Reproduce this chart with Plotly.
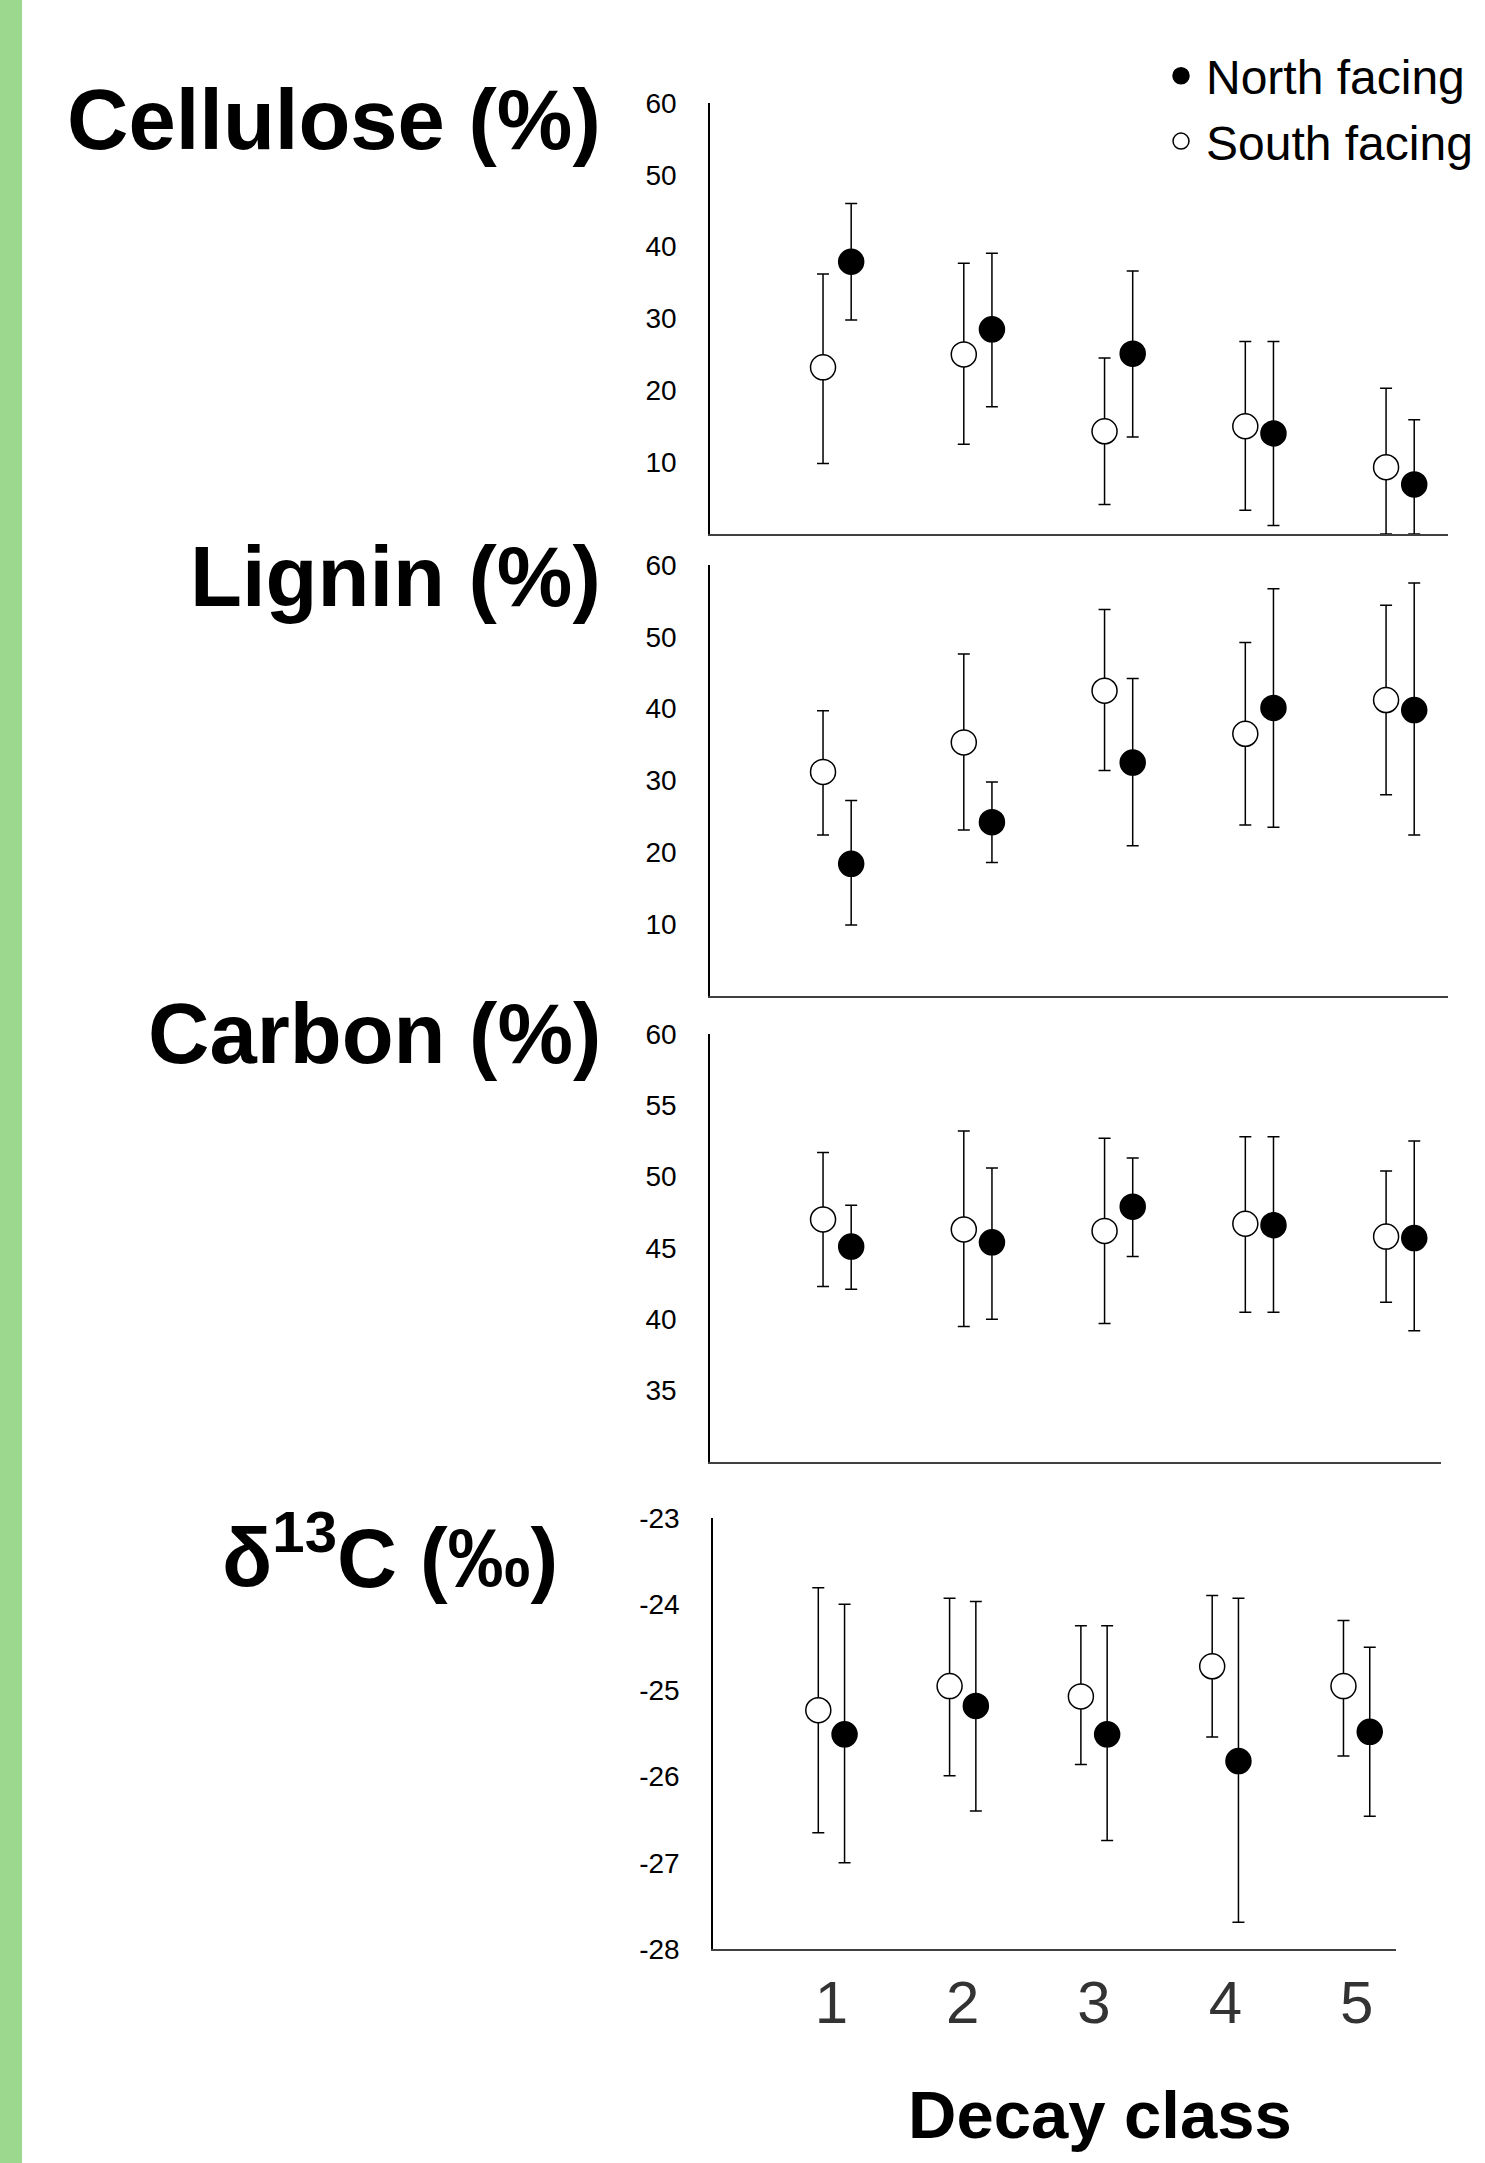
import plotly.graph_objects as go
from plotly.subplots import make_subplots

W, H = 1485, 2163

# ---------------- data ----------------
classes = [1, 2, 3, 4, 5]
class_labels = ["1", "2", "3", "4", "5"]
series_names = ["North facing", "South facing"]

# Cellulose (%)
cel_south = [23.2, 25.0, 14.3, 15.0, 9.3]
cel_south_hi = [36.2, 37.7, 24.5, 26.8, 20.3]
cel_south_lo = [9.8, 12.5, 4.1, 3.3, 0.0]
cel_north = [37.9, 28.5, 25.1, 14.0, 6.9]
cel_north_hi = [46.0, 39.1, 36.6, 26.8, 15.9]
cel_north_lo = [29.8, 17.7, 13.5, 1.2, 0.0]

# Lignin (%)
lig_south = [31.2, 35.3, 42.5, 36.5, 41.2]
lig_south_hi = [39.7, 47.6, 53.8, 49.2, 54.4]
lig_south_lo = [22.4, 23.1, 31.4, 23.8, 28.0]
lig_north = [18.4, 24.2, 32.5, 40.1, 39.8]
lig_north_hi = [27.2, 29.8, 44.2, 56.7, 57.5]
lig_north_lo = [9.9, 18.6, 20.9, 23.5, 22.4]

# Carbon (%)
car_south = [47.0, 46.3, 46.2, 46.7, 45.8]
car_south_hi = [51.7, 53.2, 52.7, 52.8, 50.4]
car_south_lo = [42.3, 39.5, 39.7, 40.5, 41.2]
car_north = [45.1, 45.4, 47.9, 46.6, 45.7]
car_north_hi = [48.0, 50.6, 51.3, 52.8, 52.5]
car_north_lo = [42.1, 40.0, 44.4, 40.5, 39.2]

# delta 13C (per mil)
d13_south = [-25.23, -24.95, -25.07, -24.72, -24.95]
d13_south_hi = [-23.81, -23.93, -24.25, -23.90, -24.19]
d13_south_lo = [-26.65, -25.99, -25.86, -25.54, -25.76]
d13_north = [-25.51, -25.18, -25.51, -25.82, -25.48]
d13_north_hi = [-24.00, -23.97, -24.25, -23.93, -24.50]
d13_north_lo = [-27.00, -26.40, -26.74, -27.69, -26.46]

titles = ["Cellulose (%)", "Lignin (%)", "Carbon (%)", "δ<sup>13</sup>C (‰)"]
yticks_cel = [10, 20, 30, 40, 50, 60]
yticks_lig = [10, 20, 30, 40, 50, 60]
yticks_car = [35, 40, 45, 50, 55, 60]
yticks_d13 = [-28, -27, -26, -25, -24, -23]
x_title = "Decay class"

# ---------------- layout helpers (pixels) ----------------
def fx(px):
    return px / W

def fy(py):
    return 1 - py / H

FONT = "Liberation Sans, Arial, sans-serif"

panels = [
    dict(s=cel_south, shi=cel_south_hi, slo=cel_south_lo,
         n=cel_north, nhi=cel_north_hi, nlo=cel_north_lo,
         yr=[0, 60], yt=yticks_cel, ypx=(103, 534), xpx=(710, 1448),
         xr=[0.097, 5.34], tpx=(603, 120), tsize=85),
    dict(s=lig_south, shi=lig_south_hi, slo=lig_south_lo,
         n=lig_north, nhi=lig_north_hi, nlo=lig_north_lo,
         yr=[0, 60], yt=yticks_lig, ypx=(565, 996), xpx=(710, 1448),
         xr=[0.097, 5.34], tpx=(603, 576), tsize=85),
    dict(s=car_south, shi=car_south_hi, slo=car_south_lo,
         n=car_north, nhi=car_north_hi, nlo=car_north_lo,
         yr=[30, 60], yt=yticks_car, ypx=(1034, 1462), xpx=(710, 1441),
         xr=[0.097, 5.29], tpx=(603, 1034), tsize=85),
    dict(s=d13_south, shi=d13_south_hi, slo=d13_south_lo,
         n=d13_north, nhi=d13_north_hi, nlo=d13_north_lo,
         yr=[-28, -23], yt=yticks_d13, ypx=(1518, 1949), xpx=(713, 1396),
         xr=[0.098, 5.30], tpx=(560, 1552), tsize=83),
]

fig = make_subplots(rows=4, cols=1)

off = 0.1
for i, p in enumerate(panels):
    row = i + 1
    # North facing (filled)
    fig.add_trace(go.Scatter(
        x=[c + off for c in classes], y=p["n"], mode="markers",
        name=series_names[0], showlegend=(i == 0), legendrank=1,
        marker=dict(symbol="circle", size=25, color="black",
                    line=dict(color="black", width=1.5)),
        error_y=dict(type="data", symmetric=False,
                     array=[h - m for h, m in zip(p["nhi"], p["n"])],
                     arrayminus=[m - l for m, l in zip(p["n"], p["nlo"])],
                     color="black", thickness=1.5, width=6),
    ), row=row, col=1)
    # South facing (open)
    fig.add_trace(go.Scatter(
        x=[c - off for c in classes], y=p["s"], mode="markers",
        name=series_names[1], showlegend=(i == 0), legendrank=2,
        marker=dict(symbol="circle", size=25, color="white",
                    line=dict(color="black", width=1.5)),
        error_y=dict(type="data", symmetric=False,
                     array=[h - m for h, m in zip(p["shi"], p["s"])],
                     arrayminus=[m - l for m, l in zip(p["s"], p["slo"])],
                     color="black", thickness=1.5, width=6),
    ), row=row, col=1)

    xa = "xaxis" if i == 0 else f"xaxis{row}"
    ya = "yaxis" if i == 0 else f"yaxis{row}"
    fig.layout[xa].update(
        domain=[fx(p["xpx"][0]), fx(p["xpx"][1])], range=p["xr"],
        showline=True, linecolor="#404040", linewidth=2,
        showgrid=False, zeroline=False, ticks="",
        showticklabels=(i == 3),
    )
    fig.layout[ya].update(
        domain=[fy(p["ypx"][1]), fy(p["ypx"][0])], range=p["yr"],
        showline=True, linecolor="black", linewidth=1.5,
        showgrid=False, zeroline=False, ticks="",
        tickvals=p["yt"], ticktext=[str(v) for v in p["yt"]],
        tickfont=dict(family=FONT, size=28, color="black"),
        ticklabelstandoff=26, automargin=False,
    )
    fig.add_annotation(
        text=f"<b>{titles[i]}</b>", xref="paper", yref="paper",
        x=fx(p["tpx"][0]), y=fy(p["tpx"][1]), xanchor="right", yanchor="middle",
        showarrow=False, font=dict(family=FONT, size=p["tsize"], color="black"),
    )

fig.layout["xaxis4"].update(
    tickvals=classes, ticktext=class_labels,
    tickfont=dict(family=FONT, size=60, color="#333333"),
    ticklabelstandoff=0, automargin=False,
)

fig.add_annotation(
    text=f"<b>{x_title}</b>", xref="paper", yref="paper",
    x=fx(1100), y=fy(2114), xanchor="center", yanchor="middle",
    showarrow=False, font=dict(family=FONT, size=67, color="black"),
)

fig.add_shape(type="rect", xref="paper", yref="paper",
              x0=0, x1=fx(22), y0=0, y1=1,
              fillcolor="#9DD88F", line=dict(width=0), layer="below")

fig.update_layout(
    width=W, height=H,
    margin=dict(l=0, r=0, t=0, b=0),
    plot_bgcolor="white", paper_bgcolor="white",
    font=dict(family=FONT, color="black"),
    showlegend=True,
    legend=dict(x=fx(1156), y=fy(38), xanchor="left", yanchor="top",
                font=dict(family=FONT, size=48, color="black"),
                bgcolor="rgba(0,0,0,0)", borderwidth=0,
                tracegroupgap=0, itemwidth=40),
)

fig.write_html("out.html", config={"displayModeBar": False},
               post_script="document.body.style.margin='0px';")
